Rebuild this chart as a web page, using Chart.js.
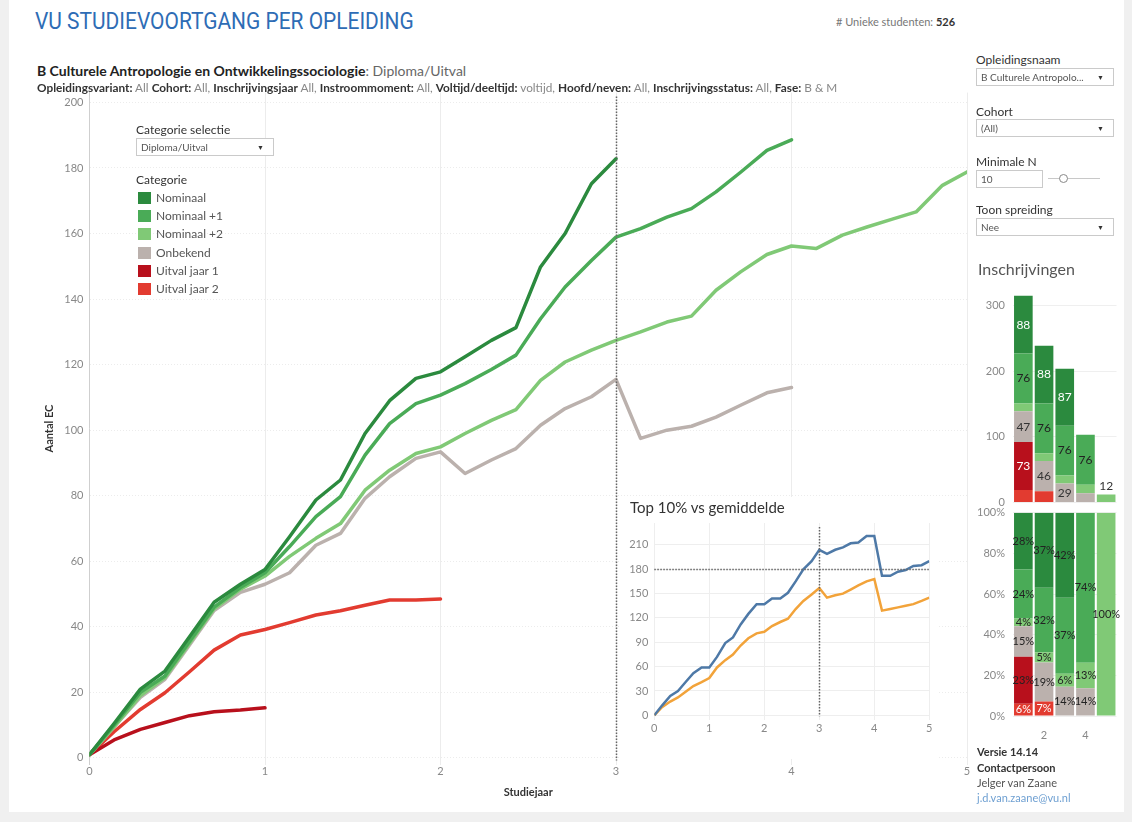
<!DOCTYPE html>
<html lang="nl">
<head>
<meta charset="utf-8">
<title>VU Studievoortgang per opleiding</title>
<script src="https://cdn.jsdelivr.net/npm/chart.js@4.4.1/dist/chart.umd.min.js"></script>
<style>
  html, body { margin: 0; padding: 0; }
  body { width: 1132px; height: 822px; background: #f0f0f0; font-family: Lato, 'Open Sans', sans-serif; color: #333; overflow: hidden; position: relative; }
  #dashboard { position: absolute; left: 9px; top: 0; width: 1115px; height: 812px; background: #fff; }
  .abs { position: absolute; white-space: nowrap; }
  canvas { position: absolute; }
  .titel { left: 35px; top: 8px; font-family: Roboto, sans-serif; font-size: 23px; color: #2e6cb5; transform: scaleX(0.91); transform-origin: left center; }
  .uniek { left: 836px; top: 15px; font-size: 11px; color: #777; }
  .uniek b { color: #333; }
  .subtitel { left: 37px; top: 62px; font-size: 14px; color: #222; }
  .subtitel span { font-weight: normal; color: #666; }
  .filters { left: 37px; top: 80px; font-size: 11.8px; color: #888; }
  .filters b { color: #333; }
  .label { font-size: 12px; color: #333; }
  .dropdown, .invoer { position: absolute; height: 18px; border: 1px solid #cacaca; background: #fff; font-size: 10px; color: #555; line-height: 17px; padding-left: 4px; box-sizing: border-box; white-space: nowrap; }
  .dropdown::after { content: '\25BC'; position: absolute; right: 9px; top: 0; font-size: 7px; color: #333; }
  .legend-item { position: absolute; left: 138px; font-size: 12px; color: #555; line-height: 12px; white-space: nowrap; }
  .legend-item i { position: absolute; left: 0; top: 0; width: 13px; height: 12px; }
  .legend-item span { position: absolute; left: 18px; top: 0; }
  .inset-titel { left: 630px; top: 498px; font-size: 15px; color: #333; }
  .inschr { left: 978px; top: 259px; font-size: 16px; color: #555; }
  .info { left: 977px; font-size: 11px; color: #333; }
</style>
</head>
<body>
<div id="dashboard"></div>

<canvas id="hoofdGrafiek" width="945" height="730" style="left:30px; top:80px;"></canvas>
<canvas id="topGrafiek" width="318" height="262" style="left:620px; top:497px; background:#fff;"></canvas>
<canvas id="aantalGrafiek" width="150" height="225" style="left:972px; top:284px;"></canvas>
<canvas id="pctGrafiek" width="150" height="235" style="left:972px; top:505px;"></canvas>

<div class="abs titel">VU STUDIEVOORTGANG PER OPLEIDING</div>
<div class="abs uniek"># Unieke studenten: <b>526</b></div>
<div class="abs subtitel"><b>B Culturele Antropologie en Ontwikkelingssociologie</b><span>: Diploma/Uitval</span></div>
<div class="abs filters"><b>Opleidingsvariant:</b> All <b>Cohort:</b> All, <b>Inschrijvingsjaar</b> All, <b>Instroommoment:</b> All, <b>Voltijd/deeltijd:</b> voltijd, <b>Hoofd/neven:</b> All, <b>Inschrijvingsstatus:</b> All, <b>Fase:</b> B &amp; M</div>

<div class="abs label" style="left:136px; top:122px;">Categorie selectie</div>
<div class="dropdown" style="left:136px; top:138px; width:138px;">Diploma/Uitval</div>
<div class="abs label" style="left:136px; top:172px;">Categorie</div>
<div id="legenda"></div>

<div class="abs inset-titel">Top 10% vs gemiddelde</div>

<div class="abs label" style="left:976px; top:52px;">Opleidingsnaam</div>
<div class="dropdown" style="left:976px; top:68px; width:138px;">B Culturele Antropolo...</div>
<div class="abs label" style="left:976px; top:104px;">Cohort</div>
<div class="dropdown" style="left:976px; top:119px; width:138px;">(All)</div>
<div class="abs label" style="left:976px; top:154px;">Minimale N</div>
<div class="invoer" style="left:976px; top:170px; width:67px;">10</div>
<div class="abs" style="left:1048px; top:178px; width:52px; height:1px; background:#c8c8c8;"></div>
<div class="abs" style="left:1059px; top:174px; width:7px; height:7px; border:1px solid #888; border-radius:50%; background:#fff;"></div>
<div class="abs label" style="left:976px; top:202px;">Toon spreiding</div>
<div class="dropdown" style="left:976px; top:218px; width:138px;">Nee</div>
<div class="abs inschr">Inschrijvingen</div>

<div class="abs info" style="top:745px;"><b>Versie 14.14</b></div>
<div class="abs info" style="top:761px;"><b>Contactpersoon</b></div>
<div class="abs info" style="top:776px; color:#555;">Jelger van Zaane</div>
<div class="abs info" style="top:791px; color:#6fa0d2;">j.d.van.zaane@vu.nl</div>

<script>
// Categorieen en kleuren (zelfde volgorde als de legenda)
const categorieen = ['Nominaal', 'Nominaal +1', 'Nominaal +2', 'Onbekend', 'Uitval jaar 1', 'Uitval jaar 2'];
const kleuren = ['#2b8a3e', '#4aab57', '#80c976', '#bbb1ad', '#b8101c', '#e23b30'];

// Meetmomenten op de x-as (studiejaar)
const studiejaar = [0, 0.14, 0.29, 0.43, 0.57, 0.71, 0.86, 1,
    1.14, 1.29, 1.43, 1.57, 1.71, 1.86, 2,
    2.14, 2.29, 2.43, 2.57, 2.71, 2.86, 3,
    3.14, 3.29, 3.43, 3.57, 3.71, 3.86, 4,
    4.14, 4.29, 4.43, 4.57, 4.71, 4.86, 5];

// Gemiddeld aantal EC per categorie
const ecNominaal = [1, 10.5, 21, 26.5, 37, 47.5, 53, 57.5, 67.5, 78.7, 84.8, 99, 109, 115.8, 117.8,
    122.4, 127.4, 131.3, 149.8, 160, 175.2, 182.8];
const ecNominaal1 = [1, 10, 20, 25, 35.5, 46, 52, 56.5, 64.5, 73.6, 79.7, 92.4, 102, 108.1, 110.7,
    114.2, 118.5, 122.9, 134, 143.7, 151.8, 158.9, 161.5, 165, 167.6, 172.7, 178.7, 185.4, 188.6];
const ecNominaal2 = [1, 9.5, 19, 24.5, 35, 45.5, 51.5, 55.5, 61.5, 67, 71.5, 81.7, 87.8, 92.9, 94.9,
    99, 103, 106.3, 115.2, 120.8, 124.4, 127.4, 130, 133, 134.8, 142.7, 148.3, 153.6, 156.2,
    155.4, 159.5, 162, 164.3, 166.6, 174.7, 178.8];
const ecOnbekend = [1, 9.5, 18.5, 24, 34.5, 45, 50.5, 53, 56.5, 64.9, 68.5, 79.2, 85.8, 91.4, 93.4,
    86.8, 90.9, 94.4, 101.5, 106.6, 110.2, 115.5, 97.5, 100, 101.2, 104, 107.6, 111.4, 113];
const ecUitval1 = [1, 5.5, 8.7, 10.8, 12.9, 14.1, 14.6, 15.3];
const ecUitval2 = [1, 8, 14.8, 19.9, 26.3, 32.9, 37.5, 39.2, 41.3, 43.6, 44.9, 46.6, 48.2, 48.2, 48.5];

// Top 10% vs gemiddelde
const ecTop10 = [0, 12, 24, 30, 41, 52, 59, 59, 72, 89, 96, 112, 125, 137, 137,
    144, 144, 151, 165, 180, 190, 204, 199, 204, 207, 212, 213, 221, 221,
    172, 172, 177, 179, 184, 185, 190];
const ecGemiddelde = [0, 10, 17, 22, 29, 36, 41, 46, 59, 68, 75, 86, 95, 101, 103,
    110, 115, 119, 131, 141, 149, 157, 145, 148, 150, 155, 160, 165, 168,
    129, 131, 133, 135, 137, 141, 145];

// Inschrijvingen per studiejaar
const jaren = ['1', '2', '3', '4', '5'];
const aantalNominaal = [88, 88, 87, 0, 0];
const aantalNominaal1 = [76, 76, 76, 76, 0];
const aantalNominaal2 = [12, 12, 12, 13, 12];
const aantalOnbekend = [47, 46, 29, 14, 0];
const aantalUitval1 = [73, 0, 0, 0, 0];
const aantalUitval2 = [19, 17, 0, 0, 0];

// Verdeling in procenten
const pctNominaal = [28, 36.9, 41.8, 0, 0];
const pctNominaal1 = [24.1, 31.8, 37.4, 73.8, 0];
const pctNominaal2 = [3.8, 5, 6.4, 12.6, 100];
const pctOnbekend = [14.9, 19.2, 14.4, 13.6, 0];
const pctUitval1 = [23.2, 0, 0, 0, 0];
const pctUitval2 = [6, 7.1, 0, 0, 0];

Chart.defaults.font.family = 'Lato, sans-serif';
Chart.defaults.font.size = 11;
Chart.defaults.color = '#888';
Chart.defaults.animation = false;

// Legenda opbouwen
const legenda = document.getElementById('legenda');
categorieen.forEach((naam, i) => {
    const item = document.createElement('div');
    item.className = 'legend-item';
    item.style.top = (192 + i * 18.2) + 'px';
    item.innerHTML = `<i style="background:${kleuren[i]}"></i><span>${naam}</span>`;
    legenda.appendChild(item);
});

function maakPunten(waarden) {
    return waarden.map((v, i) => ({ x: studiejaar[i], y: v }));
}

// Gestippelde referentielijnen
function referentieLijnen(xWaarden, yWaarden) {
    return {
        id: 'referentieLijnen',
        afterDatasetsDraw(chart) {
            const { ctx, chartArea, scales } = chart;
            ctx.save();
            ctx.strokeStyle = '#666';
            ctx.lineWidth = 1.5;
            ctx.setLineDash([1.5, 1.5]);
            xWaarden.forEach(v => {
                const px = Math.round(scales.x.getPixelForValue(v)) + 0.5;
                ctx.beginPath();
                ctx.moveTo(px, chartArea.top + 4);
                ctx.lineTo(px, chartArea.bottom - 4);
                ctx.stroke();
            });
            yWaarden.forEach(v => {
                const py = Math.round(scales.y.getPixelForValue(v)) + 0.5;
                ctx.beginPath();
                ctx.moveTo(chartArea.left, py);
                ctx.lineTo(chartArea.right, py);
                ctx.stroke();
            });
            ctx.restore();
        }
    };
}

// Labels in de gestapelde staven
const segmentLabels = {
    id: 'segmentLabels',
    afterDatasetsDraw(chart, args, opts) {
        const ctx = chart.ctx;
        ctx.save();
        ctx.font = opts.fontSize + 'px Lato, sans-serif';
        ctx.textAlign = 'center';
        ctx.textBaseline = 'middle';
        chart.data.datasets.forEach((ds, di) => {
            chart.getDatasetMeta(di).data.forEach((bar, i) => {
                const v = ds.data[i];
                if (!v) return;
                const hoogte = bar.base - bar.y;
                let y = (bar.y + bar.base) / 2;
                let kleur = ds.labelKleur;
                if (hoogte < opts.minHoogte) {
                    const bovenste = chart.data.datasets.every((d, dj) => dj <= di || !d.data[i]);
                    if (!opts.boven || !bovenste) return;
                    y = bar.y - 8;
                    kleur = '#333';
                }
                ctx.fillStyle = kleur;
                ctx.fillText(Math.round(v) + opts.suffix, bar.x, y);
            });
        });
        ctx.restore();
    }
};

// Hoofdgrafiek: gemiddeld aantal EC per categorie
const ecReeksen = [ecNominaal, ecNominaal1, ecNominaal2, ecOnbekend, ecUitval1, ecUitval2];

const configHoofd = {
    type: 'line',
    data: {
        datasets: ecReeksen.map((reeks, i) => ({
            label: categorieen[i],
            data: maakPunten(reeks),
            borderColor: kleuren[i],
            backgroundColor: kleuren[i],
            borderWidth: 3.5,
            pointRadius: 0,
            tension: 0,
            borderCapStyle: 'round',
            borderJoinStyle: 'round'
        }))
    },
    options: {
        responsive: false,
        devicePixelRatio: 1,
        layout: { padding: { top: 12.2, right: 8, bottom: 0, left: 0 } },
        plugins: { legend: { display: false }, tooltip: { enabled: false } },
        scales: {
            x: {
                type: 'linear',
                min: 0,
                max: 5,
                afterFit(scale) { scale.height = 45.5; },
                ticks: { stepSize: 1, padding: 0, color: '#888' },
                grid: { color: '#ececec', drawTicks: false },
                border: { display: false },
                title: { display: true, text: 'Studiejaar', color: '#333', font: { size: 11, weight: 'bold' }, padding: { top: 0, bottom: 11 } }
            },
            y: {
                min: -2,
                max: 203,
                afterFit(scale) { scale.width = 59.5; },
                ticks: { stepSize: 20, includeBounds: false, padding: 6, color: '#888' },
                grid: { color: '#ececec', drawTicks: false },
                border: { display: true, color: '#cfcfcf', dash: [1, 2] },
                title: { display: true, text: 'Aantal EC', color: '#333', font: { size: 11, weight: 'bold' }, padding: { top: 13, bottom: 0 } }
            }
        }
    },
    plugins: [referentieLijnen([3], [])]
};

new Chart(document.getElementById('hoofdGrafiek'), configHoofd);

// Inzet: top 10% vs gemiddelde
const configTop = {
    type: 'line',
    data: {
        datasets: [
            { label: 'Top 10%', data: maakPunten(ecTop10), borderColor: '#4e79a7', borderWidth: 2.5, pointRadius: 0, tension: 0 },
            { label: 'Gemiddelde', data: maakPunten(ecGemiddelde), borderColor: '#f2a33a', borderWidth: 2.5, pointRadius: 0, tension: 0 }
        ]
    },
    options: {
        responsive: false,
        devicePixelRatio: 1,
        layout: { padding: { top: 26, right: 8.7, bottom: 0, left: 0 } },
        plugins: { legend: { display: false }, tooltip: { enabled: false } },
        scales: {
            x: {
                type: 'linear',
                min: 0,
                max: 5,
                afterFit(scale) { scale.height = 38.8; },
                ticks: { stepSize: 1, padding: 2, color: '#888' },
                grid: { color: '#eeeeee', drawTicks: false },
                border: { display: false }
            },
            y: {
                min: -6,
                max: 237,
                afterFit(scale) { scale.width = 34.3; },
                ticks: { stepSize: 30, includeBounds: false, padding: 6, color: '#888' },
                grid: { color: '#eeeeee', drawTicks: false },
                border: { display: false }
            }
        }
    },
    plugins: [referentieLijnen([3], [180])]
};

new Chart(document.getElementById('topGrafiek'), configTop);

// Inschrijvingen: aantallen (gestapeld, onderste categorie eerst)
const aantalReeksen = [aantalUitval2, aantalUitval1, aantalOnbekend, aantalNominaal2, aantalNominaal1, aantalNominaal];
const pctReeksen = [pctUitval2, pctUitval1, pctOnbekend, pctNominaal2, pctNominaal1, pctNominaal];
const volgorde = [5, 4, 3, 2, 1, 0];
const labelKleurAantal = ['#fff', '#fff', '#333', '#333', '#222', '#fff'];
const labelKleurPct = ['#fff', '#222', '#222', '#222', '#222', '#222'];

function staafDatasets(reeksen, labelKleuren) {
    return reeksen.map((reeks, i) => ({
        label: categorieen[volgorde[i]],
        data: reeks,
        backgroundColor: kleuren[volgorde[i]],
        borderWidth: 0,
        barPercentage: 0.9,
        categoryPercentage: 1,
        labelKleur: labelKleuren[i]
    }));
}

// ticks.padding op 0 houden, anders schuift Chart.js het plotvlak op
const onzichtbareTick = { color: '#efefef', drawTicks: true, tickLength: 8, tickColor: 'rgba(0,0,0,0)' };

const configAantal = {
    type: 'bar',
    data: { labels: jaren, datasets: staafDatasets(aantalReeksen, labelKleurAantal) },
    options: {
        responsive: false,
        devicePixelRatio: 1,
        layout: { padding: { top: 0, right: 5.5, bottom: 0, left: 0 } },
        plugins: {
            legend: { display: false },
            tooltip: { enabled: false },
            segmentLabels: { fontSize: 12, minHoogte: 14, boven: true, suffix: '' }
        },
        scales: {
            x: { stacked: true, display: false },
            y: {
                stacked: true,
                min: 0,
                max: 323,
                afterFit(scale) { scale.width = 41; },
                ticks: { stepSize: 100, includeBounds: false, padding: 0, color: '#888' },
                grid: onzichtbareTick,
                border: { display: false }
            }
        }
    },
    plugins: [segmentLabels]
};

new Chart(document.getElementById('aantalGrafiek'), configAantal);

// Inschrijvingen: verdeling in procenten
const configPct = {
    type: 'bar',
    data: { labels: jaren, datasets: staafDatasets(pctReeksen, labelKleurPct) },
    options: {
        responsive: false,
        devicePixelRatio: 1,
        layout: { padding: { top: 7.7, right: 5.5, bottom: 0, left: 0 } },
        plugins: {
            legend: { display: false },
            tooltip: { enabled: false },
            segmentLabels: { fontSize: 11, minHoogte: 0, boven: false, suffix: '%' }
        },
        scales: {
            x: {
                stacked: true,
                afterFit(scale) { scale.height = 24; },
                ticks: { padding: 5, color: '#888', autoSkip: false, maxRotation: 0, callback: (v, i) => (i % 2 === 1 ? jaren[i] : '') },
                grid: { display: false },
                border: { display: false }
            },
            y: {
                stacked: true,
                min: 0,
                max: 100,
                afterFit(scale) { scale.width = 41; },
                ticks: { stepSize: 20, padding: 0, color: '#888', callback: v => v + '%' },
                grid: onzichtbareTick,
                border: { display: false }
            }
        }
    },
    plugins: [segmentLabels]
};

new Chart(document.getElementById('pctGrafiek'), configPct);
</script>
</body>
</html>
